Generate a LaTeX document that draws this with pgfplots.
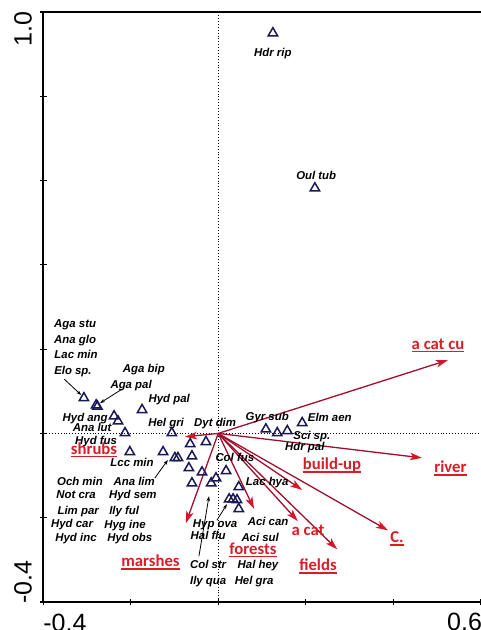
\documentclass[border=0pt]{standalone}
\usepackage{pgfplots}
\pgfplotsset{compat=1.18}
\usepackage{fontspec}
\setmainfont{Liberation Sans}
\newfontfamily\carlito{Carlito}
\usetikzlibrary{arrows.meta}
\definecolor{navy}{RGB}{25,25,85}
\definecolor{vec}{RGB}{160,15,45}
\definecolor{vechead}{RGB}{215,20,40}
\definecolor{lab}{RGB}{215,30,40}
\newcommand{\ulab}[1]{\setbox0\hbox{#1}\rlap{\color{lab}\rule[-3.2pt]{\wd0}{1.4pt}}\box0}
\newcommand{\spl}[3]{\node[sl] at (axis cs:#1,#2) {#3};}
\newcommand{\rlab}[3]{\node[rl] at (axis cs:#1,#2) {\ulab{#3}};}
\begin{document}
\begin{tikzpicture}[x=1pt,y=1pt,
  sl/.style={font=\fontsize{11.4}{13}\selectfont\bfseries\itshape, inner sep=0pt, text height=8pt, text depth=0pt, anchor=center, text=black},
  rl/.style={font=\carlito\bfseries\fontsize{16.7}{18}\selectfont, text=lab, inner sep=0pt, anchor=base},
  tl/.style={font=\fontsize{25}{25}\selectfont, inner sep=0pt, text height=18pt, text depth=0pt}]
\useasboundingbox (0,0) rectangle (480,630);
\begin{axis}[
  at={(43.2pt,28pt)}, anchor=south west, scale only axis,
  width=437.5pt, height=590pt,
  xmin=-0.4, xmax=0.6, ymin=-0.4, ymax=1.0,
  axis lines=left, axis line style={-, line width=1.6pt, black},
  xtick={-0.4,-0.2,0,0.2,0.4,0.6}, ytick={-0.4,-0.2,0,0.2,0.4,0.6,0.8,1.0},
  xticklabels={}, yticklabels={},
  tick align=center, major tick length=7pt, tick style={black, line width=1.2pt},
  clip=false,
]
\draw[line width=1.6pt] (rel axis cs:0,1) -- (rel axis cs:1,1);
% reference lines
\addplot[black, dotted, line width=0.9pt] coordinates {(0,-0.4) (0,1.0)};
\addplot[black, dotted, line width=0.9pt] coordinates {(-0.4,0) (0.6,0)};
% species
\addplot[only marks, mark=triangle, mark size=5.4pt, navy, mark options={line width=1.5pt}] table {
x y
-0.307 0.084
-0.279 0.067
-0.276 0.064
-0.238 0.041
-0.229 0.029
-0.174 0.056
-0.213 0.001
-0.106 0.001
-0.064 -0.025
-0.028 -0.020
-0.202 -0.044
-0.126 -0.044
-0.099 -0.058
-0.092 -0.058
-0.060 -0.054
-0.067 -0.082
-0.037 -0.092
0.018 -0.089
-0.060 -0.118
-0.016 -0.118
-0.005 -0.106
0.047 -0.127
0.025 -0.156
0.034 -0.156
0.043 -0.158
0.047 -0.179
0.109 0.010
0.135 0.001
0.158 0.006
0.192 0.025
0.125 0.950
0.221 0.582
};
% environmental vectors
\addplot[vec, line width=1.3pt, -{Stealth[length=12pt, width=7.5pt, inset=3pt, color=vechead]},
  quiver={u=\thisrow{u}, v=\thisrow{v}}] table {
x y u v
0 0 0.525 0.174
0 0 0.466 -0.058
0 0 0.388 -0.230
0 0 0.272 -0.275
0 0 0.182 -0.208
0 0 0.192 -0.134
0 0 0.082 -0.179
0 0 -0.074 -0.213
0 0 -0.076 -0.008
};
% pointer arrows
\addplot[black, line width=0.8pt, -{Stealth[length=5pt, width=3.5pt]},
  quiver={u=\thisrow{u}, v=\thisrow{v}}] table {
x y u v
-0.352 0.129 0.039 -0.038
-0.220 0.105 -0.050 -0.033
-0.145 -0.106 0.030 0.043
-0.044 -0.291 0.023 0.142
-0.003 -0.206 0.023 0.038
};
% species labels
\spl{0.125}{0.903}{Hdr rip}
\spl{0.224}{0.611}{Oul tub}
\spl{-0.327}{0.260}{Aga stu}
\spl{-0.327}{0.224}{Ana glo}
\spl{-0.325}{0.188}{Lac min}
\spl{-0.332}{0.150}{Elo sp.}
\spl{-0.170}{0.153}{Aga bip}
\spl{-0.199}{0.115}{Aga pal}
\spl{-0.112}{0.082}{Hyd pal}
\spl{-0.304}{0.037}{Hyd ang}
\spl{-0.288}{0.013}{Ana lut}
\spl{-0.279}{-0.016}{Hyd fus}
\spl{-0.119}{0.027}{Hel gri}
\spl{-0.007}{0.027}{Dyt dim}
\spl{-0.197}{-0.070}{Lcc min}
\spl{-0.316}{-0.115}{Och min}
\spl{-0.192}{-0.115}{Ana lim}
\spl{-0.325}{-0.144}{Not cra}
\spl{-0.195}{-0.144}{Hyd sem}
\spl{-0.320}{-0.182}{Lim par}
\spl{-0.215}{-0.182}{Ily ful}
\spl{-0.334}{-0.213}{Hyd car}
\spl{-0.213}{-0.217}{Hyg ine}
\spl{-0.325}{-0.248}{Hyd inc}
\spl{-0.202}{-0.248}{Hyd obs}
\spl{0.038}{-0.058}{Col fus}
\spl{0.112}{-0.113}{Lac hya}
\spl{-0.007}{-0.213}{Hyp ova}
\spl{-0.023}{-0.243}{Hal flu}
\spl{0.114}{-0.210}{Aci can}
\spl{0.096}{-0.246}{Aci sul}
\spl{-0.023}{-0.310}{Col str}
\spl{-0.023}{-0.348}{Ily qua}
\spl{0.091}{-0.310}{Hal hey}
\spl{0.082}{-0.348}{Hel gra}
\spl{0.112}{0.039}{Gyr sub}
\spl{0.255}{0.037}{Elm aen}
\spl{0.214}{-0.004}{Sci sp.}
\spl{0.198}{-0.032}{Hdr pal}
% environmental labels
\rlab{-0.2839}{-0.0494}{shrubs}
\rlab{-0.1547}{-0.3159}{marshes}
\rlab{0.0795}{-0.2867}{forests}
\rlab{0.2281}{-0.3249}{fields}
\rlab{0.2601}{-0.0857}{build-up}
\rlab{0.5310}{-0.0928}{river}
\rlab{0.4087}{-0.2589}{C.}
\rlab{0.5024}{0.1998}{a cat cu}
\node[rl] at (axis cs:0.2053,-0.2411) {a cat};
% tick labels
\node[tl, rotate=90, anchor=center] at (axis cs:-0.447,0.960) {1.0};
\node[tl, rotate=90, anchor=center] at (axis cs:-0.447,-0.353) {-0.4};
\node[tl, anchor=north west] at (axis cs:-0.400,-0.427) {-0.4};
\node[tl, anchor=north west] at (axis cs:0.523,-0.425) {0.6};
\end{axis}
\end{tikzpicture}
\end{document}
